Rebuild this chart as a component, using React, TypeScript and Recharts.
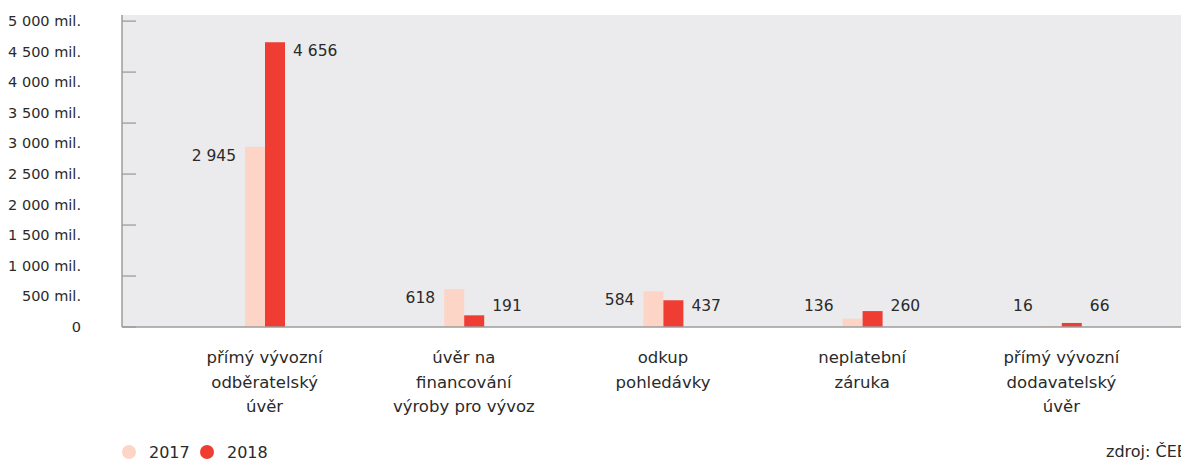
import React from "react";
import {
  BarChart,
  Bar,
  XAxis,
  YAxis,
  CartesianGrid,
  LabelList,
  Legend,
  ReferenceLine,
} from "recharts";

const categories = [
  "přímý vývozní\nodběratelský\núvěr",
  "úvěr na\nfinancování\nvýroby pro vývoz",
  "odkup\npohledávky",
  "neplatební\nzáruka",
  "přímý vývozní\ndodavatelský\núvěr",
];
const values2017 = [2945, 618, 584, 136, 16];
const values2018 = [4656, 191, 437, 260, 66];
const seriesNames = ["2017", "2018"];
const seriesColors = ["#FCD5C6", "#EF3D33"];
const yTicks = [0, 500, 1000, 1500, 2000, 2500, 3000, 3500, 4000, 4500, 5000];
const axisMarks = [0, 833.33, 1666.67, 2500, 3333.33, 4166.67, 5000];
const yDomainMax = 5100;
const sourceText = "zdroj: ČEB";

const data = categories.map((c, i) => ({
  category: c,
  y2017: values2017[i],
  y2018: values2018[i],
}));

const FONT = "'DejaVu Sans', sans-serif";
const TEXT = "#2a2a2a";
const AXIS = "#9c9c9c";

const fmt = (v: number) =>
  String(Math.round(v)).replace(/\B(?=(\d{3})+(?!\d))/g, " ");

const YTick = (props: any) => {
  const { x, y, payload } = props;
  const v = payload.value;
  const label = v === 0 ? "0" : `${fmt(v)} mil.`;
  return (
    <text
      x={x - 33}
      y={y}
      textAnchor="end"
      dominantBaseline="central"
      fontSize={14.5}
      fontFamily={FONT}
      fill={TEXT}
    >
      {label}
    </text>
  );
};

const XTick = (props: any) => {
  const { x, y, payload } = props;
  const lines = String(payload.value).split("\n");
  return (
    <text
      x={x}
      y={y}
      textAnchor="middle"
      fontSize={16.5}
      fontFamily={FONT}
      fill={TEXT}
    >
      {lines.map((l, i) => (
        <tspan key={i} x={x} dy={i === 0 ? 28 : 24.5}>
          {l}
        </tspan>
      ))}
    </text>
  );
};

const makeLabel = (side: "left" | "right") => (props: any) => {
  const { x, y, width, height, value } = props;
  const base = y + height;
  const ly = Math.min(y + 9, base - 21);
  const lx = side === "left" ? x - 9 : x + width + 8;
  return (
    <text
      x={lx}
      y={ly}
      textAnchor={side === "left" ? "end" : "start"}
      dominantBaseline="central"
      fontSize={15.5}
      fontFamily={FONT}
      fill={TEXT}
    >
      {fmt(value)}
    </text>
  );
};

const MarkShape = (p: any) => (
  <line x1={p.x1} y1={p.y1} x2={p.x1 + 14} y2={p.y2} stroke={AXIS} strokeWidth={1.3} />
);

const LegendContent = () => (
  <div
    style={{
      position: "relative",
      width: 1181,
      height: 28,
      fontFamily: FONT,
      fontSize: 16,
      color: TEXT,
    }}
  >
    {seriesNames.map((n, i) => (
      <div
        key={n}
        style={{
          position: "absolute",
          left: i === 0 ? 122 : 200,
          top: 10,
          display: "flex",
          alignItems: "center",
          height: 18,
        }}
      >
        <span
          style={{
            display: "inline-block",
            width: 14,
            height: 14,
            borderRadius: 7,
            background: seriesColors[i],
            marginRight: 13,
          }}
        />
        <span>{n}</span>
      </div>
    ))}
    <div style={{ position: "absolute", left: 1106, top: 10, height: 18, lineHeight: "18px", whiteSpace: "nowrap" }}>
      {sourceText}
    </div>
  </div>
);

export default function App() {
  return (
    <div
      style={{
        position: "absolute",
        left: 0,
        top: 0,
        width: 1181,
        height: 461,
        overflow: "hidden",
        background: "#fff",
        fontFamily: FONT,
      }}
    >
      <BarChart
        width={1181}
        height={461}
        data={data}
        margin={{ top: 15, right: 0, left: 0, bottom: 0 }}
        barGap={0}
        barCategoryGap={0}
      >
        <CartesianGrid horizontal={false} vertical={false} fill="#EBEBED" stroke="none" />
        <XAxis
          dataKey="category"
          interval={0}
          height={106}
          padding={{ left: 43, right: 20 }}
          axisLine={{ stroke: AXIS, strokeWidth: 1.5 }}
          tickLine={false}
          tick={<XTick />}
        />
        <YAxis
          type="number"
          domain={[0, yDomainMax]}
          ticks={yTicks}
          interval={0}
          width={122}
          axisLine={{ stroke: AXIS, strokeWidth: 1.5 }}
          tickLine={false}
          tick={<YTick />}
        />
        {axisMarks.map((m) => (
          <ReferenceLine key={m} y={m} shape={MarkShape} />
        ))}
        <Legend
          verticalAlign="bottom"
          align="left"
          height={28}
          wrapperStyle={{ left: 0, width: 1181 }}
          content={<LegendContent />}
        />
        <Bar dataKey="y2017" name={seriesNames[0]} fill={seriesColors[0]} barSize={20} isAnimationActive={false}>
          <LabelList dataKey="y2017" content={makeLabel("left")} />
        </Bar>
        <Bar dataKey="y2018" name={seriesNames[1]} fill={seriesColors[1]} barSize={20} isAnimationActive={false}>
          <LabelList dataKey="y2018" content={makeLabel("right")} />
        </Bar>
      </BarChart>
    </div>
  );
}
